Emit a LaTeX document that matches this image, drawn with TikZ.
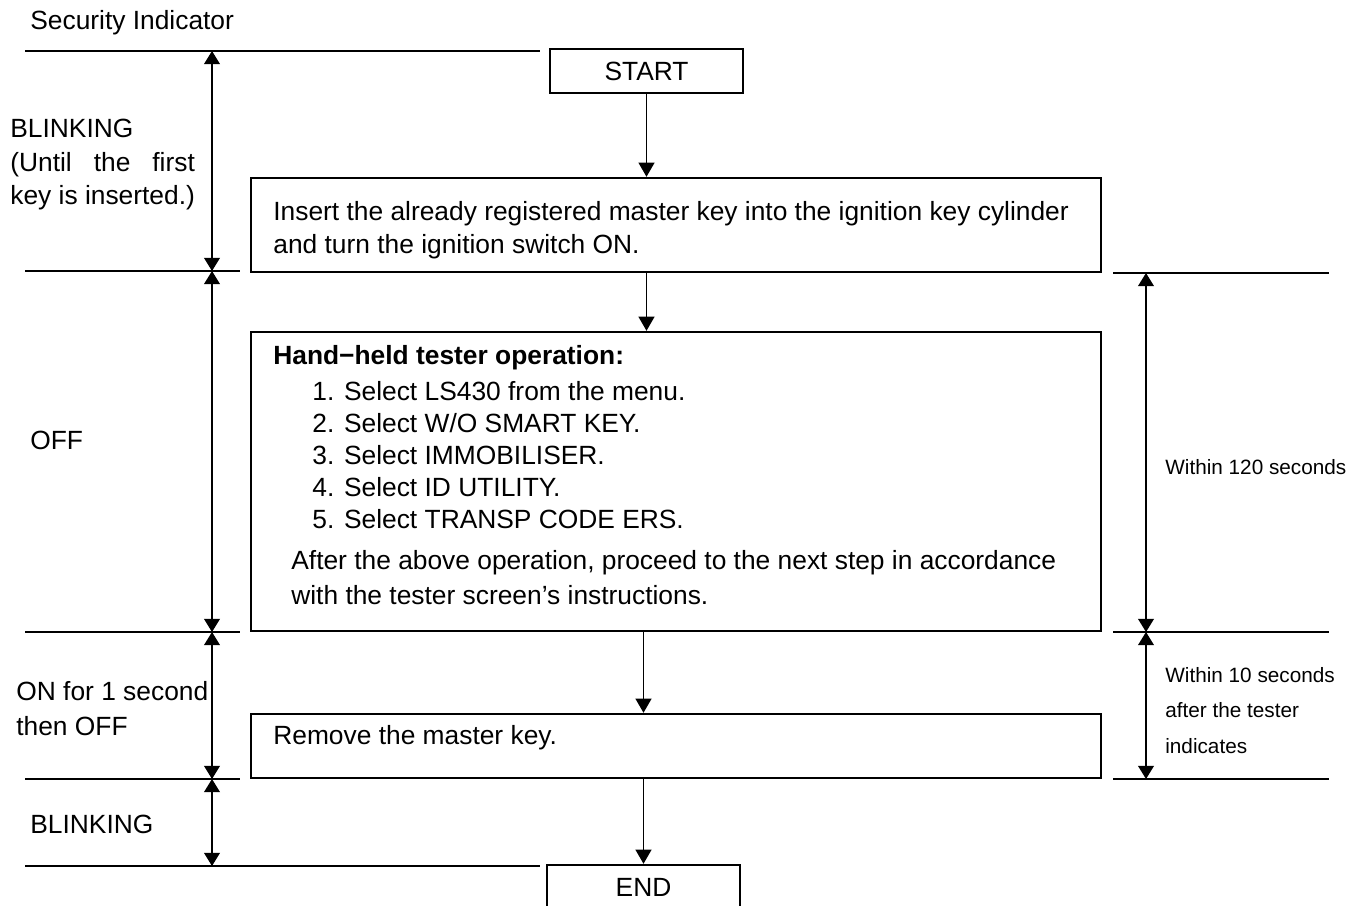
\documentclass[tikz,border=0pt]{standalone}
\usepackage{fontspec}
\setmainfont{Liberation Sans}
\usetikzlibrary{arrows.meta}
\newcommand\dgmain{\fontsize{15}{18}\selectfont}
\newcommand\dgsmall{\fontsize{11.8}{14}\selectfont}
\newlength\keylen
\begin{document}
\begin{tikzpicture}[x=0.02cm,y=-0.02cm,
  box/.style={draw, line width=1.4pt, inner sep=0, minimum width=17cm},
  term/.style={draw, line width=1.4pt, inner sep=0, minimum width=3.86cm, minimum height=0.88cm, font=\dgmain},
  txt/.style={anchor=base west, inner sep=0, font=\dgmain},
  small/.style={anchor=base west, inner sep=0, font=\dgsmall},
  flow/.style={line width=0.85pt, -{Triangle[width=9pt,length=8pt]}},
  dim/.style={line width=0.85pt, {Triangle[width=9pt,length=7.5pt]}-{Triangle[width=9pt,length=7.5pt]}},
  rule/.style={line width=0.85pt}]
\useasboundingbox (0,0) rectangle (1359,906);

% boxes
\node[term] (start) at (646.5,71) {START};
\node[box, minimum height=1.88cm] (b1) at (676,225) {};
\node[box, minimum height=5.98cm] (b2) at (676,481.5) {};
\node[box, minimum height=1.28cm] (b3) at (676,746) {};
\begin{scope}
  \clip (0,0) rectangle (1359,906);
  \node[term] (end) at (643.5,887) {END};
\end{scope}

% flow arrows
\draw[flow] (start.south) -- (start.south |- b1.north);
\draw[flow] (start.south |- b1.south) -- (start.south |- b2.north);
\draw[flow] (end.north |- b2.south) -- (end.north |- b3.north);
\draw[flow] (end.north |- b3.south) -- (end.north);

% level lines (left)
\coordinate (la0) at (25,51);   \coordinate (lb0) at (540,51);
\coordinate (la1) at (25,271);  \coordinate (lb1) at (240,271);
\coordinate (la2) at (25,632);  \coordinate (lb2) at (240,632);
\coordinate (la3) at (25,779);  \coordinate (lb3) at (240,779);
\coordinate (la4) at (25,866);  \coordinate (lb4) at (540,866);
\foreach \i in {0,...,4} {\draw[rule] (la\i) -- (lb\i);}
\coordinate (d0) at (212,51);
\coordinate (d1) at (212,271);
\coordinate (d2) at (212,632);
\coordinate (d3) at (212,779);
\coordinate (d4) at (212,866);
\draw[dim] (d0) -- (d1);
\draw[dim] (d1) -- (d2);
\draw[dim] (d2) -- (d3);
\draw[dim] (d3) -- (d4);

% level lines (right)
\coordinate (ra1) at (1113,273); \coordinate (rb1) at (1329,273);
\coordinate (ra2) at (1113,632); \coordinate (rb2) at (1329,632);
\coordinate (ra3) at (1113,779); \coordinate (rb3) at (1329,779);
\foreach \i in {1,2,3} {\draw[rule] (ra\i) -- (rb\i);}
\coordinate (e1) at (1146,273);
\coordinate (e2) at (1146,632);
\coordinate (e3) at (1146,779);
\draw[dim] (e1) -- (e2);
\draw[dim] (e2) -- (e3);

% left labels
\node[txt] (title) at (30,30) {Security Indicator};
\node[txt] (blink1) at (10,137) {BLINKING};
\node[txt] (until) at (10,171) {\settowidth\keylen{key is inserted.)}\makebox[\keylen][s]{(Until the first}};
\node[txt] (keyins) at (10,204) {key is inserted.)};
\node[txt] (off) at (30,449) {OFF};
\node[txt] (on1) at (16,700) {ON for 1 second};
\node[txt] (on2) at (16,735) {then OFF};
\node[txt] (blink2) at (30,833) {BLINKING};

% right labels
\node[small] (w120) at (1165,474) {Within 120 seconds};
\node[small] (w10a) at (1165,682) {Within 10 seconds};
\node[small] (w10b) at (1165,717) {after the tester};
\node[small] (w10c) at (1165,753) {indicates};

% box texts
\node[txt] (t1a) at (273,220) {Insert the already registered master key into the ignition key cylinder};
\node[txt] (t1b) at (273,253) {and turn the ignition switch ON.};
\node[txt, font=\dgmain\bfseries] (t2h) at (273,364) {Hand−held tester operation:};
\node[txt] (t2i1) at (312,400) {1. Select LS430 from the menu.};
\node[txt] (t2i2) at (312,432) {2. Select W/O SMART KEY.};
\node[txt] (t2i3) at (312,464) {3. Select IMMOBILISER.};
\node[txt] (t2i4) at (312,496) {4. Select ID UTILITY.};
\node[txt] (t2i5) at (312,528) {5. Select TRANSP CODE ERS.};
\node[txt] (t2a) at (291,569) {After the above operation, proceed to the next step in accordance};
\node[txt] (t2b) at (291,604) {with the tester screen’s instructions.};
\node[txt] (t3) at (273,744) {Remove the master key.};
\end{tikzpicture}
\end{document}
